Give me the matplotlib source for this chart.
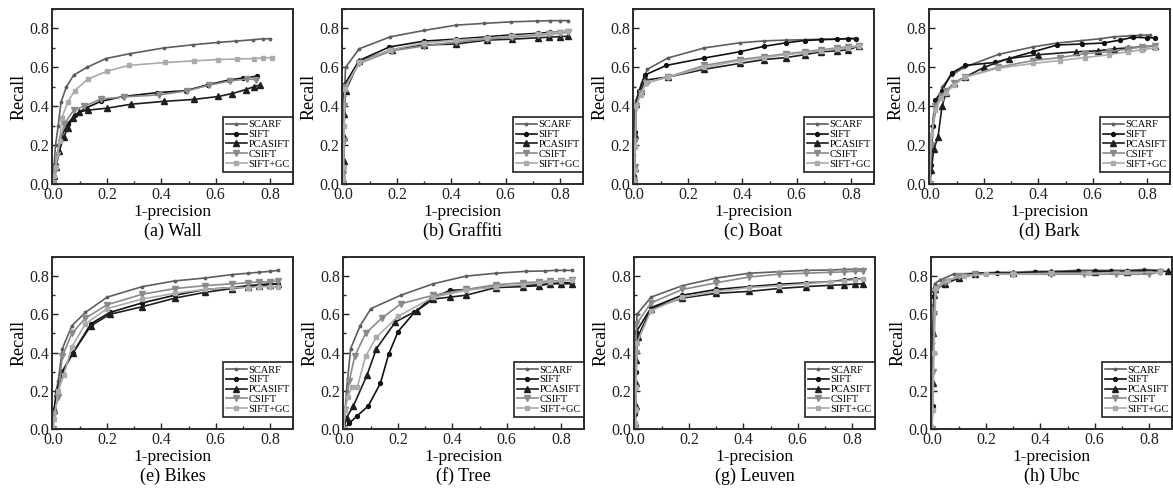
import matplotlib
matplotlib.use('Agg')
import matplotlib.pyplot as plt
from matplotlib.ticker import MultipleLocator

plt.rcParams['font.family'] = ['Liberation Serif', 'DejaVu Serif']

methods = ['SCARF', 'SIFT', 'PCASIFT', 'CSIFT', 'SIFT+GC']
captions = ['(a) Wall', '(b) Graffiti', '(c) Boat', '(d) Bark',
            '(e) Bikes', '(f) Tree', '(g) Leuven', '(h) Ubc']

# (a) Wall
wall_scarf_x = [0, 0.005, 0.01, 0.02, 0.03, 0.05, 0.077, 0.126, 0.195, 0.283, 0.41, 0.517, 0.607, 0.675, 0.739, 0.776, 0.80]
wall_scarf_y = [0, 0.10, 0.20, 0.30, 0.42, 0.50, 0.56, 0.60, 0.645, 0.67, 0.70, 0.716, 0.728, 0.735, 0.742, 0.747, 0.747]
wall_sift_x = [0, 0.005, 0.012, 0.03, 0.055, 0.08, 0.12, 0.177, 0.26, 0.385, 0.49, 0.57, 0.65, 0.70, 0.754]
wall_sift_y = [0, 0.04, 0.10, 0.24, 0.31, 0.353, 0.39, 0.425, 0.45, 0.47, 0.48, 0.51, 0.535, 0.545, 0.555]
wall_pca_x = [0, 0.005, 0.012, 0.024, 0.04, 0.055, 0.073, 0.098, 0.13, 0.2, 0.287, 0.41, 0.52, 0.61, 0.66, 0.71, 0.74, 0.765]
wall_pca_y = [0, 0.04, 0.09, 0.17, 0.24, 0.29, 0.34, 0.37, 0.38, 0.39, 0.41, 0.425, 0.435, 0.45, 0.465, 0.485, 0.50, 0.51]
wall_csift_x = [0, 0.005, 0.015, 0.043, 0.077, 0.116, 0.177, 0.263, 0.39, 0.495, 0.574, 0.653, 0.714, 0.75]
wall_csift_y = [0, 0.06, 0.15, 0.31, 0.38, 0.40, 0.437, 0.448, 0.458, 0.479, 0.508, 0.53, 0.54, 0.537]
wall_gc_x = [0, 0.005, 0.012, 0.025, 0.033, 0.055, 0.08, 0.13, 0.2, 0.28, 0.415, 0.52, 0.607, 0.678, 0.74, 0.776, 0.806]
wall_gc_y = [0, 0.04, 0.09, 0.22, 0.34, 0.42, 0.48, 0.54, 0.58, 0.61, 0.625, 0.633, 0.64, 0.643, 0.645, 0.649, 0.649]

# (b) Graffiti
graf_scarf_x = [0, 0.002, 0.004, 0.006, 0.01, 0.06, 0.175, 0.30, 0.417, 0.52, 0.62, 0.715, 0.765, 0.80, 0.83]
graf_scarf_y = [0, 0.10, 0.30, 0.45, 0.60, 0.695, 0.757, 0.79, 0.817, 0.826, 0.834, 0.838, 0.84, 0.84, 0.84]
graf_sift_x = [0, 0.002, 0.004, 0.006, 0.06, 0.172, 0.30, 0.417, 0.53, 0.62, 0.72, 0.765, 0.80, 0.83]
graf_sift_y = [0, 0.08, 0.30, 0.51, 0.635, 0.705, 0.735, 0.745, 0.757, 0.767, 0.775, 0.78, 0.78, 0.785]
graf_pca_x = [0, 0.002, 0.003, 0.004, 0.006, 0.01, 0.06, 0.18, 0.30, 0.417, 0.53, 0.625, 0.72, 0.76, 0.80, 0.83]
graf_pca_y = [0, 0.02, 0.12, 0.24, 0.36, 0.48, 0.63, 0.69, 0.715, 0.72, 0.74, 0.745, 0.752, 0.755, 0.758, 0.76]
graf_csift_x = [0, 0.002, 0.003, 0.005, 0.008, 0.06, 0.18, 0.30, 0.417, 0.53, 0.625, 0.72, 0.76, 0.80, 0.83]
graf_csift_y = [0, 0.05, 0.22, 0.40, 0.50, 0.62, 0.685, 0.71, 0.73, 0.745, 0.755, 0.765, 0.77, 0.775, 0.78]
graf_gc_x = [0, 0.002, 0.003, 0.005, 0.008, 0.06, 0.175, 0.30, 0.417, 0.53, 0.62, 0.72, 0.765, 0.80, 0.83]
graf_gc_y = [0, 0.03, 0.09, 0.30, 0.49, 0.625, 0.69, 0.725, 0.74, 0.75, 0.76, 0.77, 0.775, 0.78, 0.785]

# (c) Boat
boat_scarf_x = [0, 0.002, 0.004, 0.008, 0.03, 0.05, 0.125, 0.26, 0.39, 0.48, 0.56, 0.63, 0.69, 0.75, 0.79, 0.82]
boat_scarf_y = [0, 0.15, 0.38, 0.43, 0.52, 0.59, 0.648, 0.70, 0.726, 0.736, 0.74, 0.742, 0.745, 0.745, 0.747, 0.748]
boat_sift_x = [0, 0.002, 0.004, 0.008, 0.02, 0.04, 0.12, 0.26, 0.39, 0.48, 0.56, 0.63, 0.69, 0.75, 0.79, 0.82]
boat_sift_y = [0, 0.04, 0.27, 0.41, 0.48, 0.56, 0.61, 0.648, 0.68, 0.708, 0.726, 0.738, 0.742, 0.745, 0.748, 0.748]
boat_pca_x = [0, 0.002, 0.003, 0.005, 0.008, 0.025, 0.045, 0.125, 0.26, 0.39, 0.48, 0.56, 0.63, 0.69, 0.75, 0.79, 0.83]
boat_pca_y = [0, 0.03, 0.08, 0.25, 0.41, 0.48, 0.535, 0.55, 0.59, 0.62, 0.64, 0.65, 0.665, 0.68, 0.685, 0.69, 0.71]
boat_csift_x = [0, 0.002, 0.003, 0.005, 0.008, 0.025, 0.045, 0.125, 0.26, 0.39, 0.48, 0.56, 0.63, 0.69, 0.75, 0.79, 0.83]
boat_csift_y = [0, 0.02, 0.09, 0.22, 0.40, 0.47, 0.52, 0.55, 0.61, 0.64, 0.655, 0.67, 0.68, 0.69, 0.70, 0.705, 0.71]
boat_gc_x = [0, 0.002, 0.003, 0.005, 0.008, 0.025, 0.045, 0.125, 0.26, 0.39, 0.48, 0.56, 0.63, 0.69, 0.75, 0.79, 0.83]
boat_gc_y = [0, 0.01, 0.07, 0.19, 0.40, 0.46, 0.52, 0.55, 0.60, 0.635, 0.65, 0.665, 0.675, 0.685, 0.695, 0.70, 0.71]

# (d) Bark
bark_scarf_x = [0, 0.005, 0.012, 0.024, 0.046, 0.08, 0.127, 0.254, 0.38, 0.47, 0.556, 0.628, 0.677, 0.737, 0.773, 0.81]
bark_scarf_y = [0, 0.20, 0.30, 0.40, 0.50, 0.56, 0.60, 0.667, 0.705, 0.725, 0.737, 0.747, 0.757, 0.762, 0.765, 0.767]
bark_sift_x = [0, 0.005, 0.01, 0.02, 0.045, 0.08, 0.13, 0.24, 0.38, 0.47, 0.56, 0.64, 0.70, 0.75, 0.80, 0.83]
bark_sift_y = [0, 0.10, 0.30, 0.43, 0.48, 0.57, 0.61, 0.625, 0.68, 0.715, 0.72, 0.725, 0.74, 0.755, 0.752, 0.752]
bark_pca_x = [0, 0.005, 0.015, 0.03, 0.045, 0.06, 0.09, 0.13, 0.2, 0.29, 0.40, 0.54, 0.62, 0.68, 0.73, 0.78, 0.83]
bark_pca_y = [0, 0.07, 0.18, 0.24, 0.40, 0.47, 0.52, 0.55, 0.60, 0.645, 0.665, 0.68, 0.685, 0.695, 0.70, 0.705, 0.71]
bark_csift_x = [0, 0.005, 0.02, 0.04, 0.06, 0.09, 0.13, 0.25, 0.38, 0.48, 0.57, 0.66, 0.73, 0.78, 0.83]
bark_csift_y = [0, 0.20, 0.40, 0.45, 0.48, 0.52, 0.55, 0.60, 0.635, 0.65, 0.67, 0.68, 0.695, 0.705, 0.71]
bark_gc_x = [0, 0.005, 0.02, 0.04, 0.06, 0.09, 0.13, 0.25, 0.38, 0.48, 0.57, 0.66, 0.73, 0.78, 0.83]
bark_gc_y = [0, 0.25, 0.38, 0.44, 0.47, 0.51, 0.55, 0.595, 0.62, 0.635, 0.65, 0.665, 0.68, 0.69, 0.70]

# (e) Bikes
bikes_scarf_x = [0, 0.005, 0.012, 0.02, 0.035, 0.07, 0.12, 0.20, 0.33, 0.45, 0.56, 0.66, 0.72, 0.76, 0.80, 0.83]
bikes_scarf_y = [0, 0.10, 0.20, 0.25, 0.42, 0.54, 0.61, 0.69, 0.745, 0.775, 0.79, 0.808, 0.815, 0.82, 0.825, 0.83]
bikes_sift_x = [0, 0.005, 0.015, 0.035, 0.075, 0.14, 0.21, 0.33, 0.45, 0.56, 0.66, 0.72, 0.76, 0.80, 0.83]
bikes_sift_y = [0, 0.10, 0.20, 0.30, 0.40, 0.55, 0.61, 0.66, 0.70, 0.73, 0.74, 0.75, 0.755, 0.76, 0.76]
bikes_pca_x = [0, 0.005, 0.015, 0.035, 0.075, 0.14, 0.21, 0.33, 0.45, 0.56, 0.66, 0.72, 0.76, 0.80, 0.83]
bikes_pca_y = [0, 0.10, 0.19, 0.30, 0.40, 0.54, 0.60, 0.64, 0.685, 0.715, 0.735, 0.745, 0.75, 0.755, 0.76]
bikes_csift_x = [0, 0.005, 0.02, 0.035, 0.07, 0.12, 0.20, 0.33, 0.45, 0.56, 0.66, 0.72, 0.76, 0.80, 0.83]
bikes_csift_y = [0, 0.08, 0.17, 0.38, 0.50, 0.58, 0.65, 0.705, 0.735, 0.75, 0.76, 0.765, 0.77, 0.77, 0.775]
bikes_gc_x = [0, 0.005, 0.02, 0.04, 0.07, 0.12, 0.20, 0.33, 0.45, 0.56, 0.66, 0.72, 0.76, 0.80, 0.83]
bikes_gc_y = [0, 0.05, 0.20, 0.28, 0.43, 0.55, 0.63, 0.68, 0.71, 0.73, 0.74, 0.74, 0.745, 0.745, 0.745]

# (f) Tree
tree_scarf_x = [0, 0.005, 0.01, 0.025, 0.06, 0.10, 0.21, 0.33, 0.45, 0.56, 0.67, 0.74, 0.78, 0.81, 0.84]
tree_scarf_y = [0, 0.10, 0.20, 0.42, 0.54, 0.63, 0.70, 0.76, 0.80, 0.815, 0.825, 0.827, 0.83, 0.83, 0.83]
tree_sift_x = [0, 0.02, 0.05, 0.09, 0.135, 0.165, 0.20, 0.26, 0.32, 0.39, 0.45, 0.56, 0.66, 0.72, 0.76, 0.80, 0.84]
tree_sift_y = [0, 0.03, 0.07, 0.12, 0.24, 0.39, 0.51, 0.61, 0.68, 0.725, 0.73, 0.745, 0.75, 0.755, 0.76, 0.765, 0.765]
tree_pca_x = [0, 0.01, 0.035, 0.085, 0.12, 0.19, 0.27, 0.33, 0.39, 0.45, 0.56, 0.66, 0.72, 0.76, 0.80, 0.84]
tree_pca_y = [0, 0.06, 0.12, 0.28, 0.42, 0.56, 0.62, 0.68, 0.69, 0.70, 0.74, 0.745, 0.75, 0.76, 0.76, 0.76]
tree_csift_x = [0, 0.005, 0.02, 0.04, 0.08, 0.14, 0.21, 0.33, 0.45, 0.56, 0.66, 0.72, 0.76, 0.80, 0.84]
tree_csift_y = [0, 0.10, 0.25, 0.38, 0.50, 0.58, 0.655, 0.70, 0.73, 0.755, 0.765, 0.77, 0.775, 0.775, 0.78]
tree_gc_x = [0, 0.005, 0.015, 0.03, 0.05, 0.08, 0.12, 0.20, 0.33, 0.45, 0.56, 0.66, 0.72, 0.76, 0.80, 0.84]
tree_gc_y = [0, 0.10, 0.17, 0.22, 0.22, 0.38, 0.48, 0.59, 0.69, 0.725, 0.745, 0.755, 0.765, 0.77, 0.775, 0.78]

# (g) Leuven
leu_scarf_x = [0, 0.002, 0.004, 0.008, 0.06, 0.175, 0.30, 0.42, 0.53, 0.63, 0.72, 0.77, 0.81, 0.84]
leu_scarf_y = [0, 0.10, 0.30, 0.60, 0.69, 0.75, 0.79, 0.815, 0.823, 0.83, 0.832, 0.835, 0.835, 0.835]
leu_sift_x = [0, 0.002, 0.004, 0.006, 0.06, 0.175, 0.30, 0.42, 0.53, 0.63, 0.72, 0.77, 0.81, 0.84]
leu_sift_y = [0, 0.08, 0.30, 0.51, 0.635, 0.70, 0.73, 0.745, 0.757, 0.765, 0.77, 0.78, 0.785, 0.785]
leu_pca_x = [0, 0.002, 0.003, 0.004, 0.006, 0.01, 0.06, 0.175, 0.30, 0.42, 0.53, 0.63, 0.72, 0.77, 0.81, 0.84]
leu_pca_y = [0, 0.03, 0.12, 0.24, 0.36, 0.48, 0.63, 0.685, 0.71, 0.72, 0.735, 0.745, 0.752, 0.755, 0.758, 0.76]
leu_csift_x = [0, 0.002, 0.004, 0.006, 0.06, 0.175, 0.30, 0.42, 0.53, 0.63, 0.72, 0.77, 0.81, 0.84]
leu_csift_y = [0, 0.10, 0.40, 0.55, 0.66, 0.73, 0.765, 0.795, 0.81, 0.815, 0.82, 0.822, 0.825, 0.825]
leu_gc_x = [0, 0.002, 0.003, 0.005, 0.008, 0.06, 0.175, 0.30, 0.42, 0.53, 0.63, 0.72, 0.77, 0.81, 0.84]
leu_gc_y = [0, 0.03, 0.10, 0.22, 0.45, 0.62, 0.69, 0.72, 0.74, 0.75, 0.76, 0.77, 0.775, 0.78, 0.785]

# (h) Ubc
ubc_scarf_x = [0, 0.002, 0.004, 0.006, 0.01, 0.03, 0.08, 0.16, 0.24, 0.30, 0.38, 0.44, 0.54, 0.60, 0.66, 0.72, 0.78, 0.84]
ubc_scarf_y = [0, 0.20, 0.45, 0.65, 0.76, 0.78, 0.81, 0.815, 0.82, 0.82, 0.825, 0.825, 0.83, 0.83, 0.83, 0.83, 0.835, 0.83]
ubc_sift_x = [0, 0.003, 0.006, 0.01, 0.04, 0.10, 0.16, 0.24, 0.30, 0.38, 0.44, 0.54, 0.60, 0.66, 0.72, 0.78, 0.84]
ubc_sift_y = [0, 0.12, 0.50, 0.74, 0.76, 0.80, 0.815, 0.815, 0.815, 0.82, 0.82, 0.825, 0.825, 0.825, 0.825, 0.828, 0.828]
ubc_pca_x = [0, 0.003, 0.005, 0.008, 0.012, 0.05, 0.10, 0.16, 0.30, 0.44, 0.60, 0.72, 0.87]
ubc_pca_y = [0, 0.24, 0.50, 0.70, 0.73, 0.76, 0.79, 0.81, 0.815, 0.82, 0.82, 0.822, 0.825]
ubc_csift_x = [0, 0.004, 0.008, 0.012, 0.05, 0.10, 0.16, 0.30, 0.44, 0.56, 0.68, 0.80, 0.84]
ubc_csift_y = [0, 0.30, 0.60, 0.72, 0.77, 0.80, 0.81, 0.81, 0.81, 0.81, 0.81, 0.81, 0.82]
ubc_gc_x = [0, 0.004, 0.008, 0.015, 0.06, 0.12, 0.20, 0.30, 0.44, 0.58, 0.72, 0.84]
ubc_gc_y = [0, 0.10, 0.40, 0.74, 0.78, 0.80, 0.81, 0.81, 0.815, 0.815, 0.82, 0.82]

panels = [
    [(wall_scarf_x, wall_scarf_y), (wall_sift_x, wall_sift_y), (wall_pca_x, wall_pca_y),
     (wall_csift_x, wall_csift_y), (wall_gc_x, wall_gc_y)],
    [(graf_scarf_x, graf_scarf_y), (graf_sift_x, graf_sift_y), (graf_pca_x, graf_pca_y),
     (graf_csift_x, graf_csift_y), (graf_gc_x, graf_gc_y)],
    [(boat_scarf_x, boat_scarf_y), (boat_sift_x, boat_sift_y), (boat_pca_x, boat_pca_y),
     (boat_csift_x, boat_csift_y), (boat_gc_x, boat_gc_y)],
    [(bark_scarf_x, bark_scarf_y), (bark_sift_x, bark_sift_y), (bark_pca_x, bark_pca_y),
     (bark_csift_x, bark_csift_y), (bark_gc_x, bark_gc_y)],
    [(bikes_scarf_x, bikes_scarf_y), (bikes_sift_x, bikes_sift_y), (bikes_pca_x, bikes_pca_y),
     (bikes_csift_x, bikes_csift_y), (bikes_gc_x, bikes_gc_y)],
    [(tree_scarf_x, tree_scarf_y), (tree_sift_x, tree_sift_y), (tree_pca_x, tree_pca_y),
     (tree_csift_x, tree_csift_y), (tree_gc_x, tree_gc_y)],
    [(leu_scarf_x, leu_scarf_y), (leu_sift_x, leu_sift_y), (leu_pca_x, leu_pca_y),
     (leu_csift_x, leu_csift_y), (leu_gc_x, leu_gc_y)],
    [(ubc_scarf_x, ubc_scarf_y), (ubc_sift_x, ubc_sift_y), (ubc_pca_x, ubc_pca_y),
     (ubc_csift_x, ubc_csift_y), (ubc_gc_x, ubc_gc_y)],
]

colors = ['#5e5e5e', '#111111', '#1e1e1e', '#8a8a8a', '#ababab']
markers = ['.', 'o', '^', 'v', 's']
msizes = [3.5, 2.8, 4.2, 4.2, 3.4]

fig = plt.figure(figsize=(11.73, 4.88), dpi=100)

W, H = 1173, 488
lefts_px = [52, 342, 633, 929, 52, 343, 634, 931]
tops_px = [9] * 4 + [257] * 4
heights_px = [175] * 4 + [172] * 4
width_px = 241

for i in range(8):
    ax = fig.add_axes([lefts_px[i] / W, 1 - (tops_px[i] + heights_px[i]) / H,
                       width_px / W, heights_px[i] / H])
    for j, (xs, ys) in enumerate(panels[i]):
        ax.plot(xs, ys, color=colors[j], marker=markers[j], markersize=msizes[j],
                linewidth=1.2, label=methods[j])
    ax.set_xlim(-0.003, 0.885)
    ax.set_ylim(0, 0.9)
    ax.xaxis.set_major_locator(MultipleLocator(0.2))
    ax.xaxis.set_minor_locator(MultipleLocator(0.1))
    ax.yaxis.set_major_locator(MultipleLocator(0.2))
    ax.yaxis.set_minor_locator(MultipleLocator(0.1))
    ax.xaxis.set_major_formatter(plt.FormatStrFormatter('%.1f'))
    ax.yaxis.set_major_formatter(plt.FormatStrFormatter('%.1f'))
    ax.tick_params(which='both', direction='in', labelsize=11.5, colors='#222222', pad=2)
    ax.tick_params(which='major', length=4, width=1)
    ax.tick_params(which='minor', length=2.5, width=1)
    for sp in ax.spines.values():
        sp.set_linewidth(1.4)
        sp.set_color('#2a2a2a')
    ax.set_xlabel('1-precision', fontsize=12.5, labelpad=1)
    ax.set_ylabel('Recall', fontsize=13, labelpad=1)
    ax.annotate(captions[i], xy=(0.5, 0), xycoords='axes fraction',
                xytext=(0, -34), textcoords='offset points',
                ha='center', va='center', fontsize=13)
    leg = ax.legend(loc='lower right', bbox_to_anchor=(1.0, 0.07), fontsize=7.5,
                    frameon=True, fancybox=False, framealpha=1, edgecolor='#222222',
                    labelspacing=0.05, handlelength=2.0, handletextpad=0.2,
                    borderpad=0.3, borderaxespad=0.0)
    leg.get_frame().set_linewidth(1.2)

fig.savefig('out.png', dpi=100)
